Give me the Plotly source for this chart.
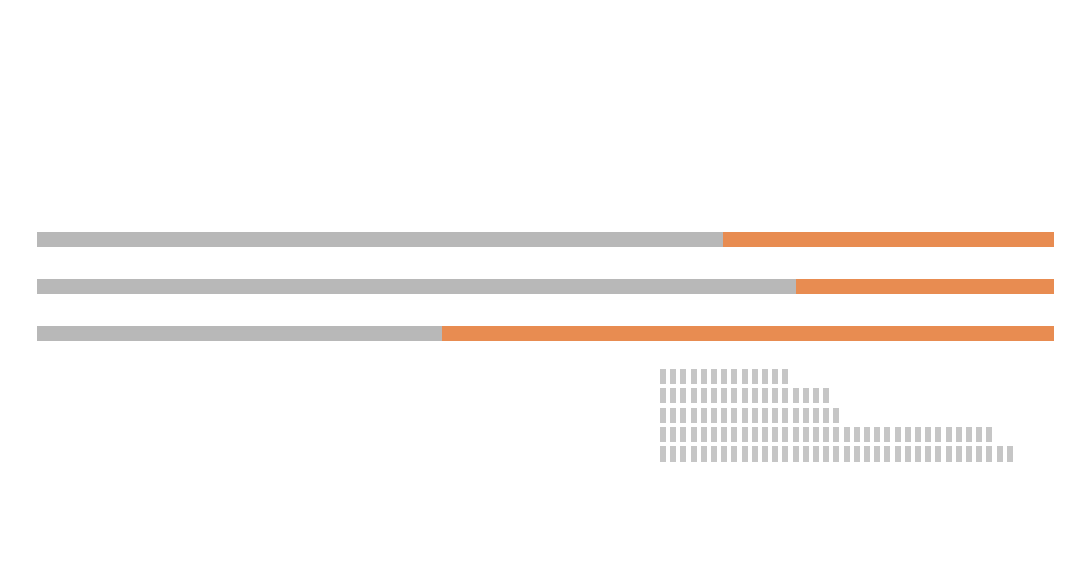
import plotly.graph_objects as go

# Stacked bars (percent shares)
bar_rows = [0, 1, 2]
gray_share = [67.5, 74.6, 39.8]
orange_share = [32.5, 25.4, 60.2]

# Waffle-like unit grid: number of units per row (top to bottom)
waffle_counts = [13, 17, 18, 33, 35]

GRAY = "#b8b8b8"
ORANGE = "#e88c51"
WAFFLE_GRAY = "#c6c6c6"

fig = go.Figure()

fig.add_trace(go.Bar(
    y=bar_rows, x=gray_share, orientation="h", width=0.32,
    marker=dict(color=GRAY, line=dict(width=0)),
    xaxis="x", yaxis="y", showlegend=False, hoverinfo="skip"))
fig.add_trace(go.Bar(
    y=bar_rows, x=orange_share, orientation="h", width=0.32,
    marker=dict(color=ORANGE, line=dict(width=0)),
    xaxis="x", yaxis="y", showlegend=False, hoverinfo="skip"))

# waffle cells
wx, wbase = [], []
for r, n in enumerate(waffle_counts):
    for c in range(n):
        wx.append(c)
        wbase.append(-r - 0.39)
fig.add_trace(go.Bar(
    x=wx, y=[0.78] * len(wx), base=wbase, width=0.59,
    marker=dict(color=WAFFLE_GRAY, line=dict(width=0)),
    xaxis="x2", yaxis="y2", showlegend=False, hoverinfo="skip"))

axis_off = dict(visible=False, showgrid=False, zeroline=False, fixedrange=True)

dx = 8 / 1080
dy = 8 / 570

fig.update_layout(
    width=1080, height=570,
    margin=dict(l=0, r=0, t=0, b=0),
    paper_bgcolor="white", plot_bgcolor="white",
    barmode="stack",
    xaxis=dict(domain=[0.0343 - dx, 0.9759 - dx], range=[0, 100], **axis_off),
    yaxis=dict(domain=[0.3737 + dy, 0.6211 + dy], range=[2.5, -0.5], **axis_off),
    xaxis2=dict(domain=[0.6092 - dx, 0.9398 - dx], range=[-0.5, 34.5], anchor="y2", **axis_off),
    yaxis2=dict(domain=[0.1865 + dy, 0.3565 + dy], range=[-4.5, 0.5], anchor="x2", **axis_off),
)

fig.write_html("out.html")
